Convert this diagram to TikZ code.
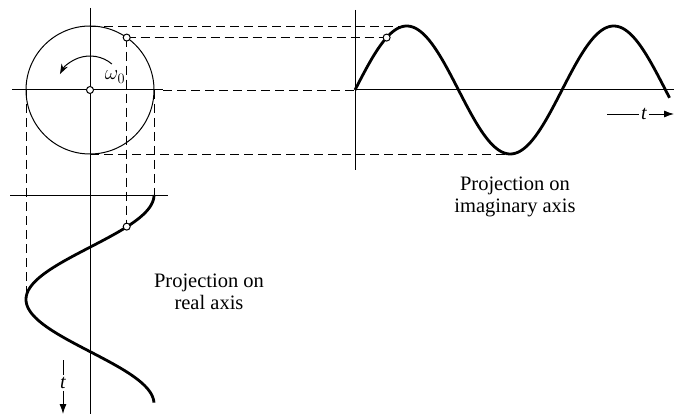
\documentclass[tikz,border=0pt]{standalone}
\usepackage{fontspec}
\setmainfont{Liberation Serif}
\usetikzlibrary{arrows.meta}

\begin{document}
\begin{tikzpicture}[x=1pt, y=-1pt,
    thin axis/.style={line width=1pt},
    proj/.style={line width=0.9pt, dash pattern=on 9pt off 5pt},
    wave/.style={line width=2.8pt},
    dot/.style={circle, draw, fill=white, line width=1pt, inner sep=0pt, minimum size=7pt},
    caption/.style={align=center, font=\fontsize{20.5}{22}\selectfont}]
    \useasboundingbox (0,0) rectangle (674,414);
    % Points
    \coordinate (O) at (90,90);
    \coordinate (P) at ({90+64*cos(55)},{90-64*sin(55)});
    \coordinate (Q) at ({355+55*0.575},{90-64*sin(55)});
    \coordinate (R) at ({90+64*cos(55)},{195+55*0.575});
    \coordinate (top) at (90,26);
    \coordinate (bot) at (90,154);
    \coordinate (peak) at ({355+90*0.575},26);
    \coordinate (trough) at ({355+270*0.575},154);
    \coordinate (left) at (26,90);
    \coordinate (right) at (154,90);
    \coordinate (low) at (26,{195+180*0.575});
    \coordinate (start) at (154,195);
    % Axes
    \draw[thin axis] (90,8) -- (90,414);
    \draw[thin axis] (12,90) -- (163,90);
    \draw[thin axis] (355,90) -- (674,90);
    \draw[thin axis] (355,10) -- (355,170);
    \draw[thin axis] (10,195) -- (168,195);
    % Circle
    \draw[line width=1pt] (O) circle (64);
    \draw[line width=1pt, -{Stealth[length=10pt, width=7pt]}] ([shift={(-50:34)}]O) arc[start angle=-50, end angle=-152, radius=34];
    \node (w) at (115,77) {\fontsize{21}{21}\selectfont$\omega_0$};
    % Projections
    \draw[proj] (163,90) -- (355,90);
    \draw[proj] (top) -- (peak);
    \draw[proj] (P) -- (Q);
    \draw[proj] (bot) -- (trough);
    \draw[proj] (left) -- (low);
    \draw[proj] (right) -- (start);
    \draw[proj] (P) -- (R);
    % Waves
    \draw[wave, domain=0:547, samples=150, smooth] plot ({355+\x*0.575},{90-64*sin(\x)});
    \draw[wave, domain=0:358, samples=150, smooth] plot ({90+64*cos(\x)},{195+\x*0.58});
    % Dots
    \node[dot] (o) at (O) {};
    \node[dot] (p) at (P) {};
    \node[dot] (q) at (Q) {};
    \node[dot] (r) at (R) {};
    % Time arrows
    \node[inner sep=2pt] (t1) at (63,383) {\fontsize{20}{20}\selectfont\itshape t};
    \coordinate (t1a) at (63,360);
    \coordinate (t1b) at (63,414);
    \draw[line width=0.9pt] (t1a) -- (t1.north);
    \draw[line width=0.9pt, -{Latex[length=10pt, width=7pt]}] (t1.south) -- (t1b);
    \node[inner sep=2pt] (t2) at (644,114) {\fontsize{20}{20}\selectfont\itshape t};
    \coordinate (t2a) at (607,114);
    \coordinate (t2b) at (674,114);
    \draw[line width=0.9pt] (t2a) -- (t2.west);
    \draw[line width=0.9pt, -{Latex[length=10pt, width=7pt]}] (t2.east) -- (t2b);
    % Captions
    \node[caption] (imag) at (515,197) {Projection on\\imaginary axis};
    \node[caption] (real) at (209,292) {Projection on\\real axis};
\end{tikzpicture}
\end{document}
